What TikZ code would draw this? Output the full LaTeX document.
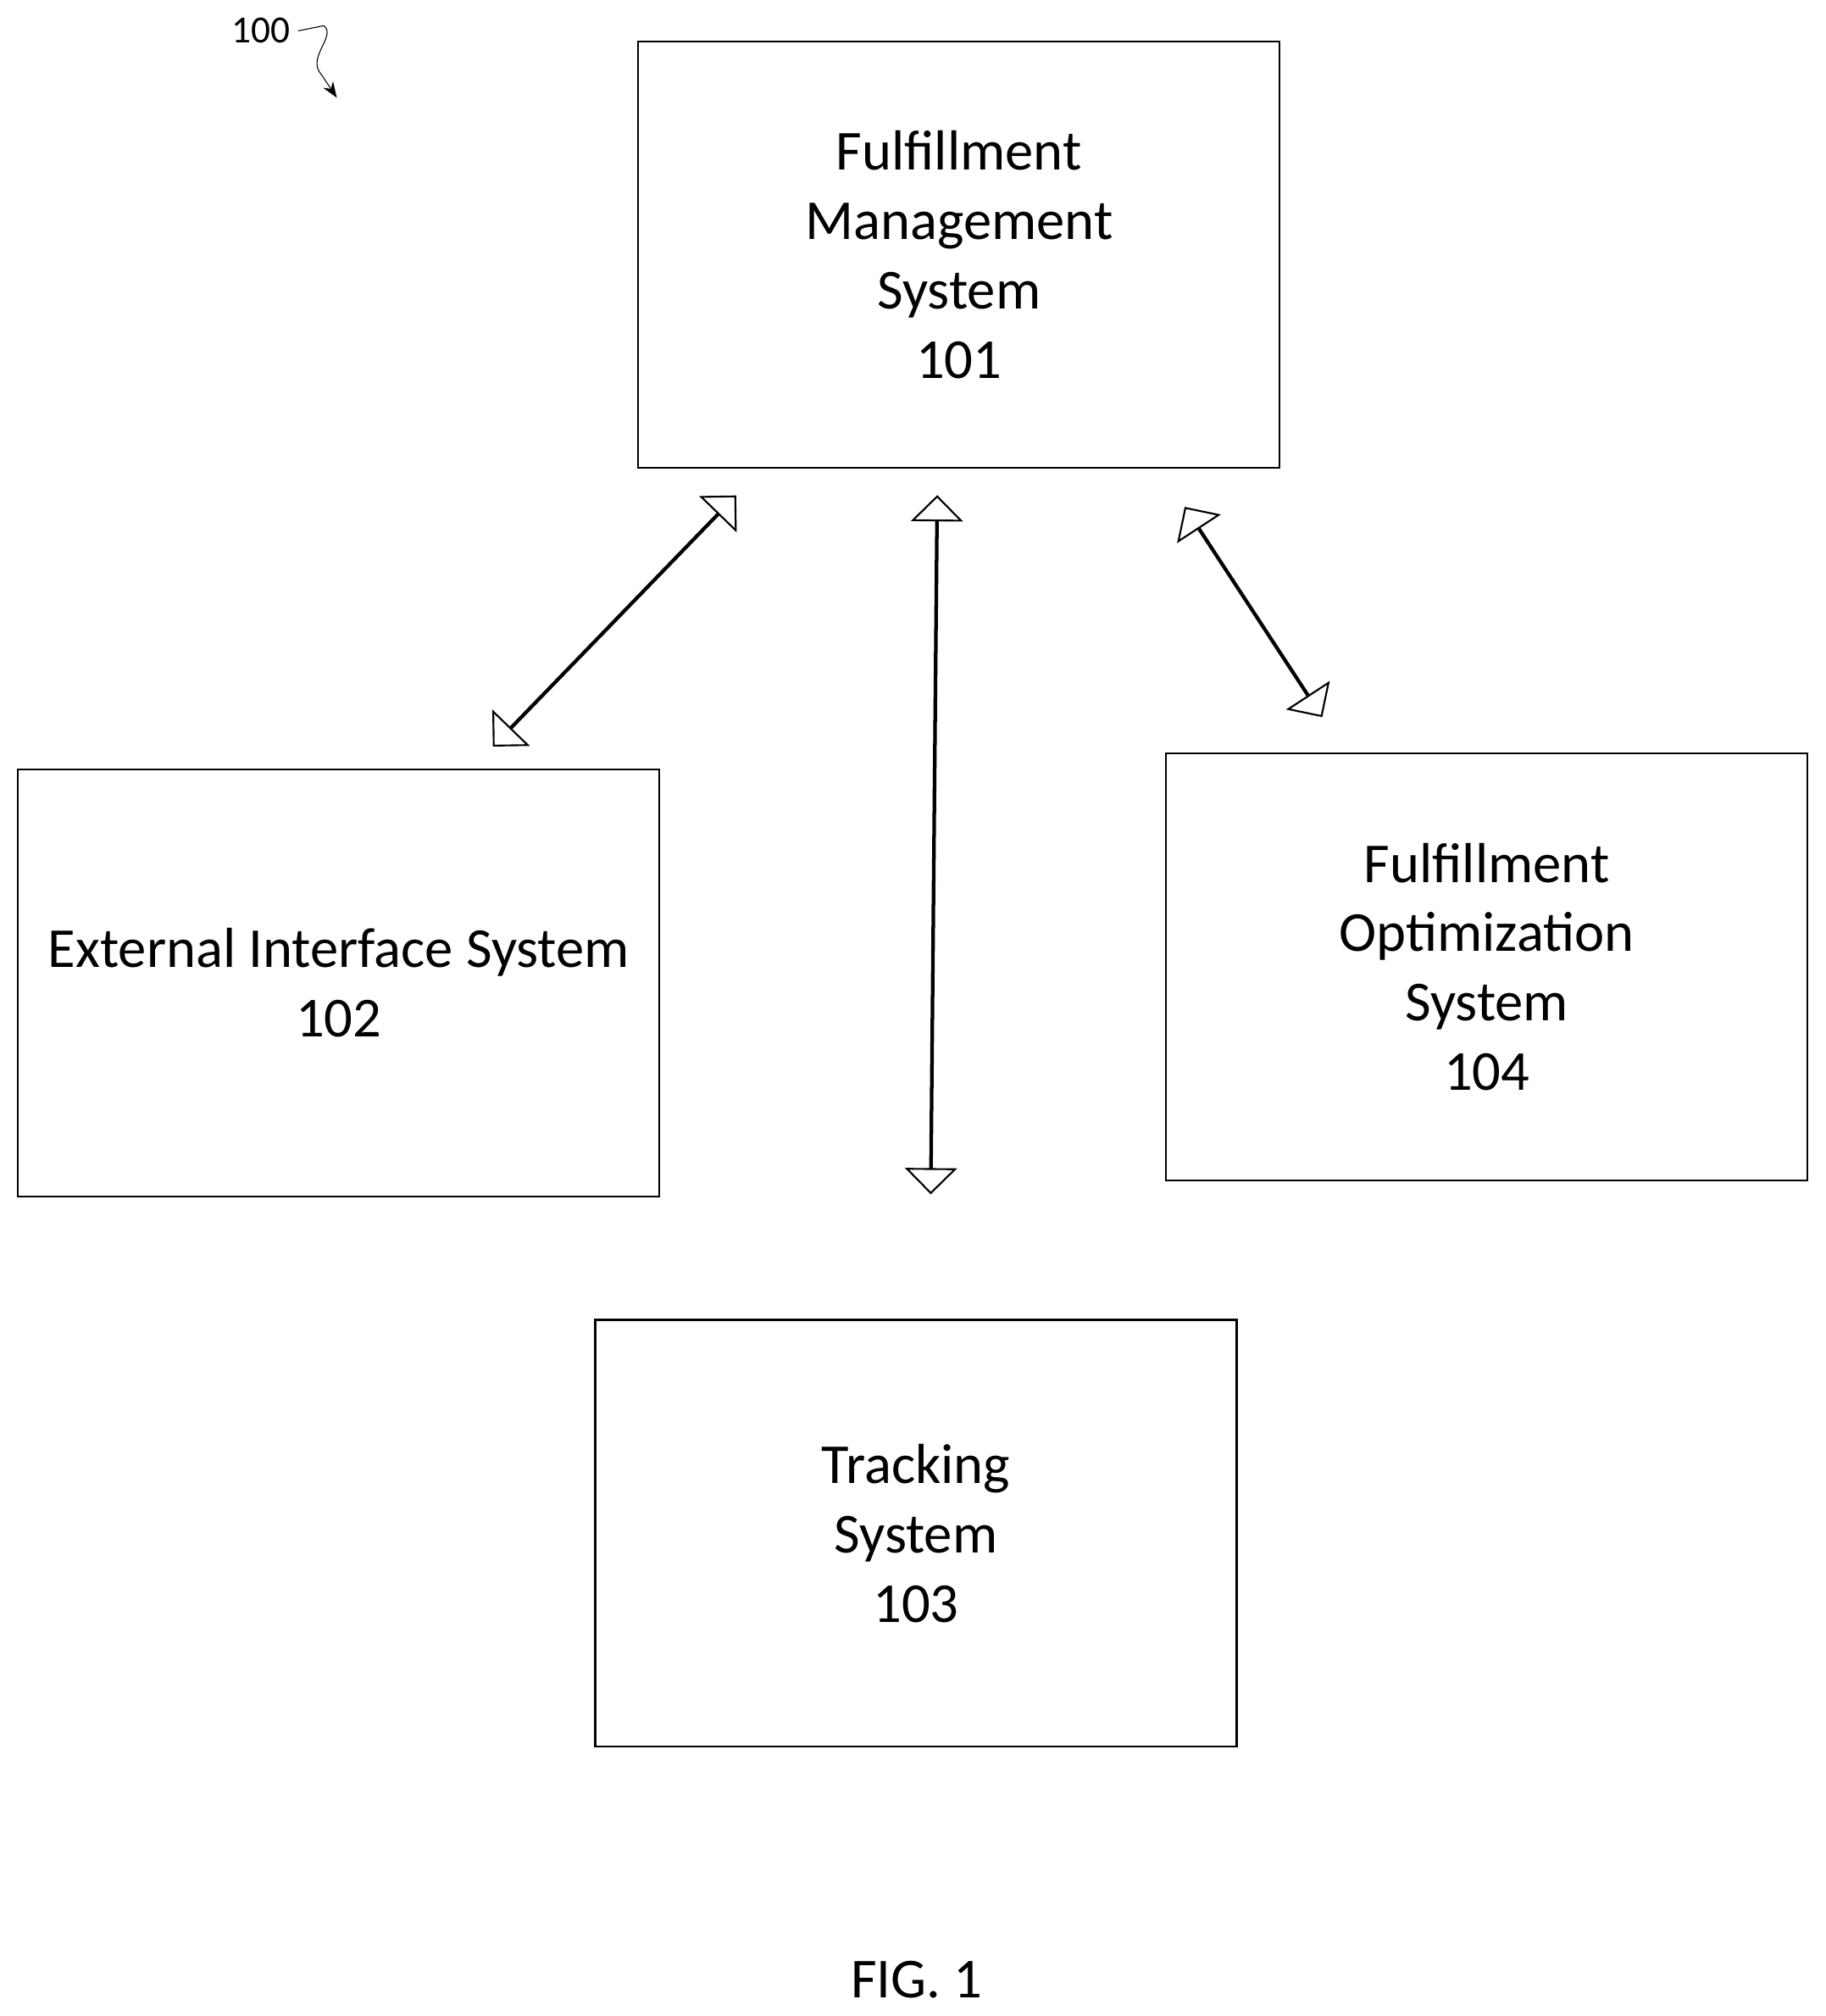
\documentclass[tikz,border=0pt]{standalone}
\usepackage{fontspec}
\setmainfont{Carlito}
\usetikzlibrary{shapes.arrows,arrows.meta}

\begin{document}
\begin{tikzpicture}[x=0.02cm,y=-0.02cm,
  box/.style = {draw, line width=0.8pt, minimum width=9.98cm, minimum height=6.64cm,
    align=center, font=\fontsize{25}{30.7}\selectfont},
  dbl/.style = {draw, line width=0.8pt, double arrow, minimum width=0.68cm,
    double arrow head extend=0.36cm, double arrow tip angle=90, inner sep=0pt}]
\useasboundingbox (0,0) rectangle (1420,1568);
\node[box] (fms) at (746,198) {Fulfillment\\Management\\System\\101};
\node[box] (eis) at (263.5,764.5) {External Interface System\\102};
\node[box] (fos) at (1156.5,752) {Fulfillment\\Optimization\\System\\104};
\node[box] (ts) at (712.5,1192.5) {Tracking\\System\\103};
\node[dbl, minimum height=5.4cm, rotate=45.9] (a1) at (478,483) {};
\node[dbl, minimum height=10.84cm, rotate=89.47] (a2) at (726.5,657) {};
\node[dbl, minimum height=3.87cm, rotate=-56.8] (a3) at (975,476) {};
\node[font=\fontsize{17}{20}\selectfont] (ref) at (203,24) {100};
\coordinate (tip) at (262,76);
\draw[-{Stealth[length=7pt]}] (ref.east) -- ++(20,-4) .. controls (262,28) and (238,45) .. (250,58) -- (tip);
\node[font=\fontsize{25}{30}\selectfont] (fig) at (713,1540) {FIG. 1};
\end{tikzpicture}
\end{document}
